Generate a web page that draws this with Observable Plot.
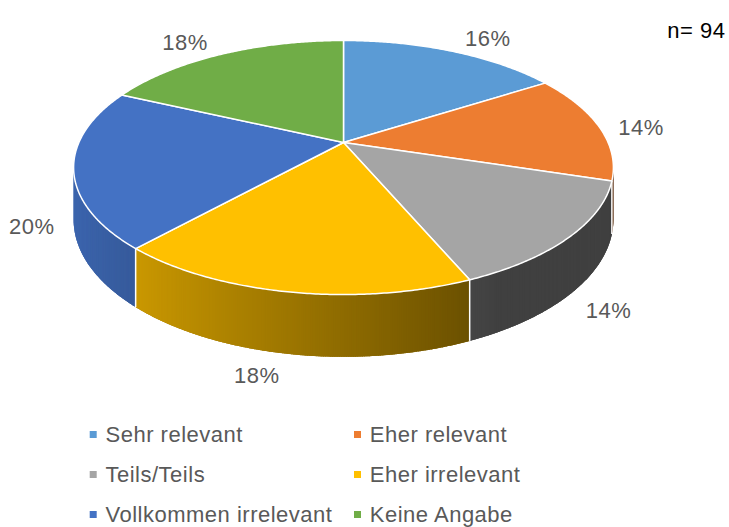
<!DOCTYPE html>
<html><head><meta charset="utf-8">
<script src="https://cdn.jsdelivr.net/npm/d3@7"></script>
<script src="https://cdn.jsdelivr.net/npm/@observablehq/plot@0.6"></script>
<style>body{margin:0;background:#fff}</style>
</head><body><div id="chart"></div>
<script>
// ---- data ----
const categories = ["Sehr relevant", "Eher relevant", "Teils/Teils", "Eher irrelevant", "Vollkommen irrelevant", "Keine Angabe"];
const counts = [15, 13, 13, 17, 19, 17];
const percentLabels = ["16%", "14%", "14%", "18%", "20%", "18%"];
const colors = ["#5B9BD5", "#ED7D31", "#A5A5A5", "#FFC000", "#4472C4", "#70AD47"];
const sampleSize = 94;

// ---- layout / 3D projection ----
const W = 729, H = 527;
const cx = 343, cy = 142, RX = 264.6, RY = 122.1, persp = 0.197, depth = 50;
const rad = Math.PI / 180;
function proj(theta, r = 1, down = 0) {
  const u = r * Math.sin(theta), v = -r * Math.cos(theta);
  const den = 1 - persp * v;
  return [cx + RX * u / den, cy + (RY * v + down) / den];
}
const arcs = d3.pie().sort(null).value(d => d)(counts);
const thetaR = Math.acos(-persp), thetaL = 2 * Math.PI - thetaR;
function shadeFactor(theta) {
  return Math.max(0.39, Math.min(0.9, 0.556 + 0.349 * Math.cos(theta - 270 * rad)));
}
function shade(hex, f) {
  const c = d3.rgb(hex);
  return d3.rgb(c.r * f, c.g * f, c.b * f).formatHex();
}

// side walls: one base polygon per slice, then overlapping shaded strips
const sideBase = [];
const sidePts = [];
let sid = 0;
arcs.forEach((a, i) => {
  const t0 = Math.max(a.startAngle, thetaR), t1 = Math.min(a.endAngle, thetaL);
  if (t1 <= t0) return;
  const n = Math.ceil((t1 - t0) / (0.4 * rad));
  const baseFill = shade(colors[i], shadeFactor((t0 + t1) / 2));
  for (let k = 0; k <= n; k++) {
    const [x, y] = proj(t0 + (t1 - t0) * k / n);
    sideBase.push({id: i, x, y, fill: baseFill});
  }
  for (let k = n; k >= 0; k--) {
    const [x, y] = proj(t0 + (t1 - t0) * k / n, 1, depth);
    sideBase.push({id: i, x, y, fill: baseFill});
  }
  for (let k = 0; k < n; k++) {
    const s0 = t0 + (t1 - t0) * k / n;
    const s1 = Math.min(t1, t0 + (t1 - t0) * (k + 1.6) / n);
    const fill = shade(colors[i], shadeFactor((s0 + s1) / 2));
    const id = "s" + (sid++);
    [proj(s0), proj(s1), proj(s1, 1, depth), proj(s0, 1, depth)]
      .forEach(([x, y]) => sidePts.push({id, x, y, fill}));
  }
});

// side dividers
const dividers = [];
arcs.forEach(a => {
  const t = a.startAngle;
  if (t > thetaR && t < thetaL) {
    const [x1, y1] = proj(t), [x2, y2] = proj(t, 1, depth);
    dividers.push({x1, y1, x2, y2});
  }
});

// top faces
const topPts = [];
arcs.forEach((a, i) => {
  const n = Math.ceil((a.endAngle - a.startAngle) / (0.5 * rad));
  topPts.push({id: i, x: cx, y: cy, fill: colors[i]});
  for (let k = 0; k <= n; k++) {
    const t = a.startAngle + (a.endAngle - a.startAngle) * k / n;
    const [x, y] = proj(t);
    topPts.push({id: i, x, y, fill: colors[i]});
  }
});

// data labels (outside the rim, at each slice's mid angle)
const labelData = arcs.map((a, i) => {
  const m = (a.startAngle + a.endAngle) / 2;
  const u = Math.sin(m), v = -Math.cos(m);
  const [rx, ry] = proj(m, 1, v > 0 ? depth : 0);
  return {x: rx + Math.sign(u) * (30 + 12 * Math.abs(u)), y: ry + 18 * v + 4, text: percentLabels[i]};
});

// legend
const legendData = categories.map((c, i) => ({c, color: colors[i], col: i % 2, row: Math.floor(i / 2)}));
const legX = d => 92.7 + d.col * 264.3;
const legY = d => 434 + d.row * 40;

const chart = Plot.plot({
  width: W, height: H,
  margin: 0,
  x: {domain: [0, W], range: [0, W], axis: null},
  y: {domain: [0, H], range: [0, H], axis: null},
  color: {type: "identity"},
  style: {fontFamily: "'Liberation Sans', Arial, sans-serif", background: "#fff", letterSpacing: "0.5px"},
  marks: [
    Plot.line(sideBase, {x: "x", y: "y", z: "id", fill: "fill", curve: "linear-closed"}),
    Plot.line(sidePts, {x: "x", y: "y", z: "id", fill: "fill", curve: "linear-closed"}),
    Plot.link(dividers, {x1: "x1", y1: "y1", x2: "x2", y2: "y2", stroke: "white", strokeWidth: 1.5}),
    Plot.line(topPts, {x: "x", y: "y", z: "id", fill: "fill", stroke: "white", strokeWidth: 1.5, strokeLinejoin: "round", curve: "linear-closed"}),
    Plot.text(labelData, {x: "x", y: "y", text: "text", fontSize: 22, fill: "#595959"}),
    Plot.dot(legendData, {x: legX, y: legY, symbol: "square", r: 3.95, fill: "color"}),
    Plot.text(legendData, {x: d => legX(d) + 12.3, y: legY, text: "c", textAnchor: "start", fontSize: 22, fill: "#595959"}),
    Plot.text([`n= ${sampleSize}`], {frameAnchor: "top-right", dx: -4, dy: 21.5, text: d => d, textAnchor: "end", fontSize: 22, fill: "#000"})
  ]
});
document.getElementById("chart").appendChild(chart);
</script>
</body></html>
